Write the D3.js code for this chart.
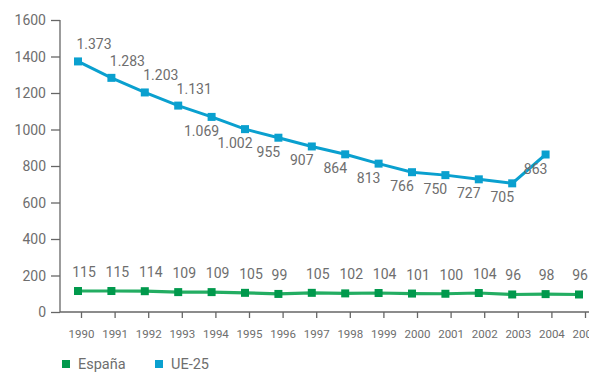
<!DOCTYPE html>
<html>
<head>
<meta charset="utf-8">
<script src="https://cdn.jsdelivr.net/npm/d3@7"></script>
<style>
  html, body { margin: 0; padding: 0; background: #fff; }
  svg { display: block; }
  text { font-family: Roboto, "DejaVu Sans", sans-serif; fill: #6e6e6e; }
</style>
</head>
<body>
<svg id="chart" width="589" height="372"></svg>
<script>
// Years on the horizontal axis
const years = [1990, 1991, 1992, 1993, 1994, 1995, 1996, 1997, 1998, 1999,
               2000, 2001, 2002, 2003, 2004, 2005];

// España series (16 values)
const espana = [115, 115, 114, 109, 109, 105, 99, 105, 102, 104, 101, 100, 104, 96, 98, 96];

// UE-25 series (1990–2004)
const ue25 = [1373, 1283, 1203, 1131, 1069, 1002, 955, 907, 864, 813, 766, 750, 727, 705, 863];

// Y axis ticks
const yTicks = [0, 200, 400, 600, 800, 1000, 1200, 1400, 1600];

const seriesNames = ["España", "UE-25"];
const colors = { "España": "#00994c", "UE-25": "#0aa0cf" };
const lineColors = { "España": "#23ad62", "UE-25": "#0aa0cf" };

// Spanish-style thousands separator for the labels
const fmt = d3.formatLocale({ decimal: ",", thousands: ".", grouping: [3], currency: ["", "€"] }).format(",d");

const svg = d3.select("#chart");

// Points and axis ticks use slightly different spacing along the category axis
const x = d3.scalePoint().domain(years).range([78, 579]);
const xTicks = d3.scalePoint().domain(years).range([81, 585]);
const y = d3.scaleLinear().domain([0, 1600]).range([312, 20]);

// Y axis
const yAxis = svg.append("g")
  .attr("transform", "translate(60,0)")
  .call(d3.axisLeft(y).tickValues(yTicks).tickSize(9).tickPadding(5).tickFormat(d3.format("d")));
yAxis.selectAll("line, path").attr("stroke", "#666").attr("stroke-width", 1.3);
yAxis.select("path").attr("d", `M0,${y(1600)}V${y(0)}`);
yAxis.selectAll("text").style("font-size", "14px").attr("fill", "#6e6e6e").attr("dy", "0.35em");

// X axis
const xAxis = svg.append("g")
  .attr("transform", `translate(0,${y(0)})`)
  .call(d3.axisBottom(xTicks).tickSize(6).tickPadding(12).tickFormat(d3.format("d")));
xAxis.selectAll("line, path").attr("stroke", "#666").attr("stroke-width", 1.3);
xAxis.select("path").attr("d", "M60,0H589");
xAxis.selectAll("text").style("font-size", "11.5px").attr("fill", "#6e6e6e");

const line = d3.line().x(d => x(d.year)).y(d => y(d.value));

const espData = years.map((yr, i) => ({ year: yr, value: espana[i] }));
const ueData = ue25.map((v, i) => ({ year: years[i], value: v }));

// Lines
svg.append("path").datum(ueData)
  .attr("fill", "none").attr("stroke", lineColors["UE-25"]).attr("stroke-width", 3)
  .attr("d", line);
svg.append("path").datum(espData)
  .attr("fill", "none").attr("stroke", lineColors["España"]).attr("stroke-width", 3.2)
  .attr("d", line);

// Square markers
const ms = 8;
svg.append("g").selectAll("rect").data(ueData).join("rect")
  .attr("x", d => x(d.year) - ms / 2).attr("y", d => y(d.value) - ms / 2)
  .attr("width", ms).attr("height", ms).attr("fill", colors["UE-25"]);
svg.append("g").selectAll("rect").data(espData).join("rect")
  .attr("x", d => x(d.year) - ms / 2).attr("y", d => y(d.value) - ms / 2)
  .attr("width", ms).attr("height", ms).attr("fill", colors["España"]);

// UE-25 value labels: above-right for the first four points, below-left afterwards
svg.append("g").selectAll("text").data(ueData).join("text")
  .attr("x", (d, i) => x(d.year) + (i < 4 ? 16 : -10))
  .attr("y", (d, i) => y(d.value) + (i < 4 ? -12 : 19))
  .attr("text-anchor", "middle")
  .style("font-size", "14px")
  .text(d => fmt(d.value));

// España value labels above each point
svg.append("g").selectAll("text").data(espData).join("text")
  .attr("x", d => x(d.year) + (d.value >= 100 ? 6 : 1))
  .attr("y", d => y(d.value) - 14)
  .attr("text-anchor", "middle")
  .style("font-size", "14px")
  .text(d => fmt(d.value));

// Legend
const legend = svg.append("g").attr("transform", "translate(62,359)");
const legendX = [0, 93];
seriesNames.forEach((name, i) => {
  const g = legend.append("g").attr("transform", `translate(${legendX[i]},0)`);
  g.append("rect").attr("width", 8).attr("height", 8).attr("y", 1).attr("fill", colors[name]);
  g.append("text").attr("x", 16).attr("y", 10).style("font-size", "14.5px").text(name);
});
</script>
</body>
</html>
